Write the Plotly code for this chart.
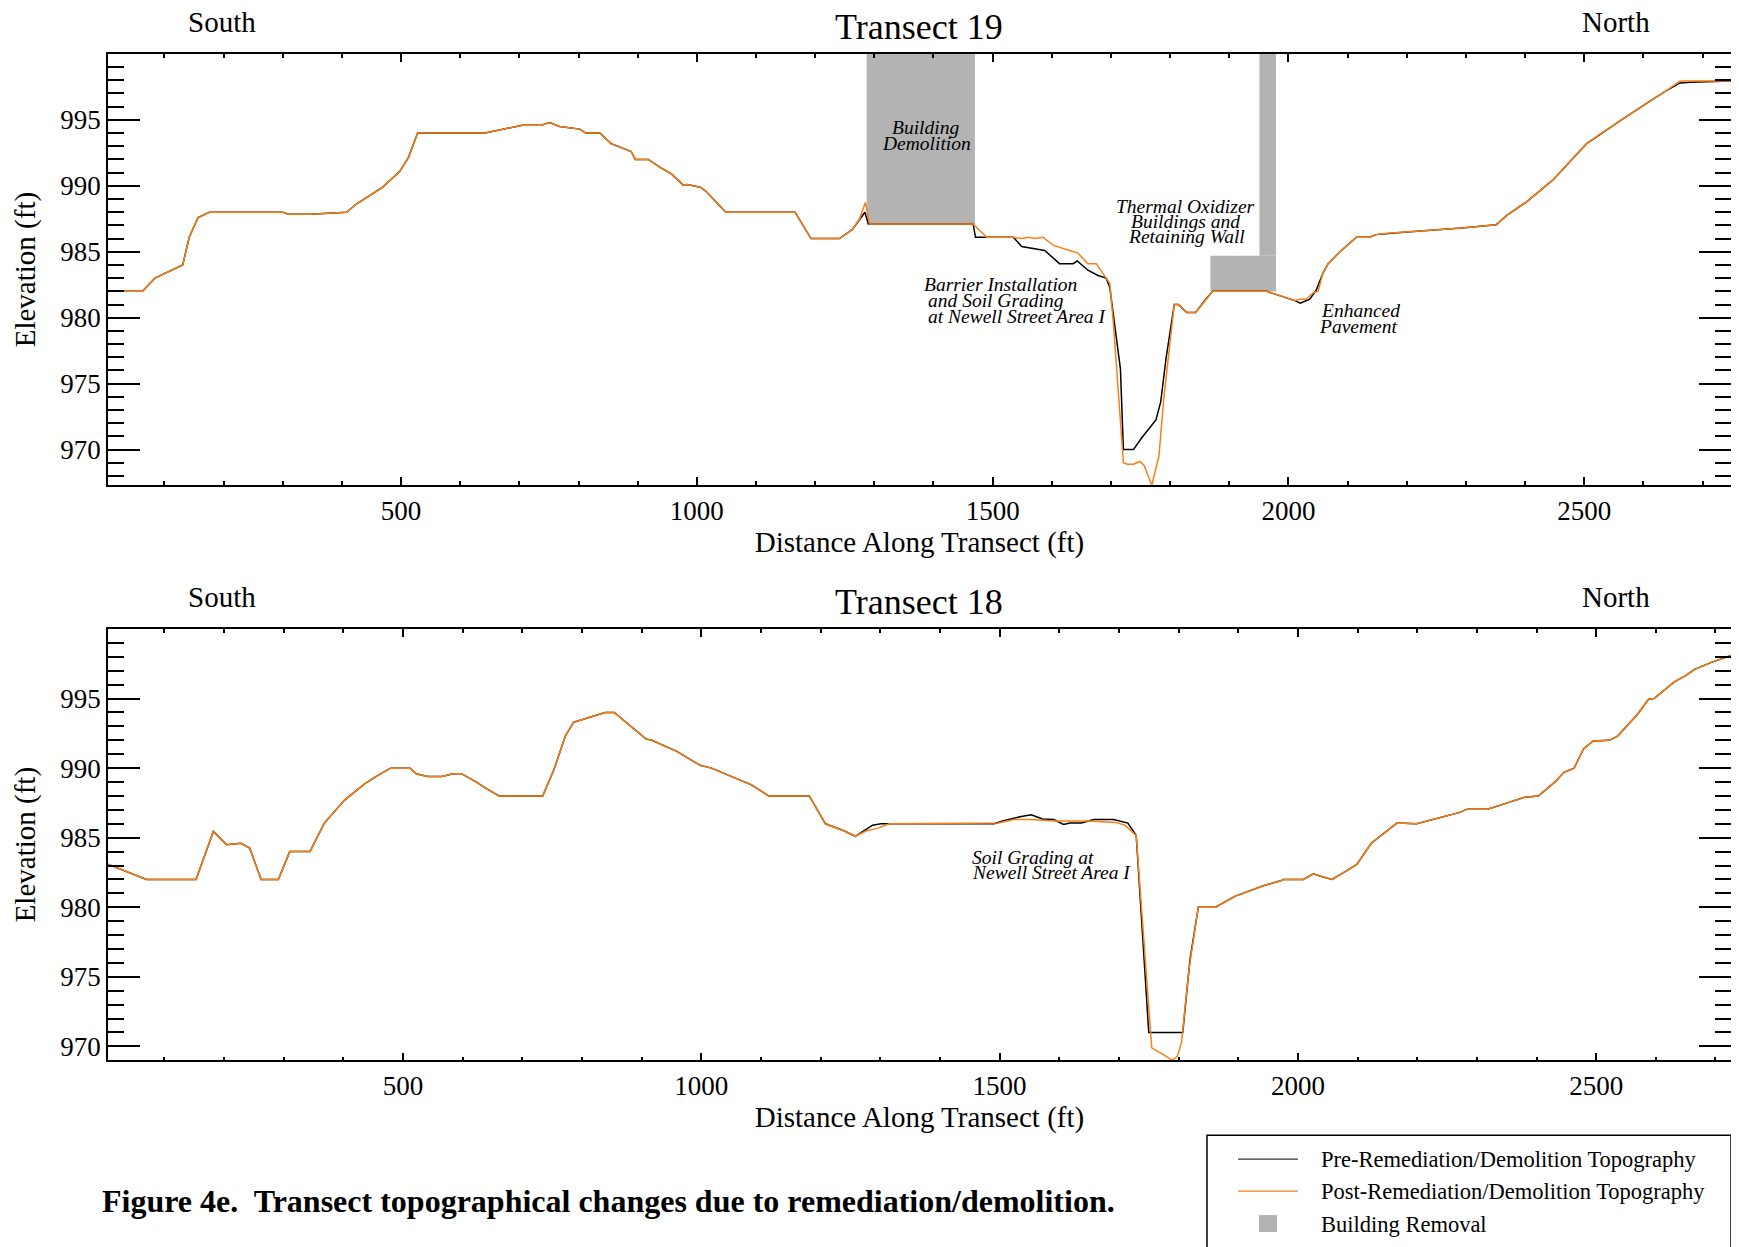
import plotly.graph_objects as go

# the page adds an 8 px body margin, so the figure is drawn 8 px smaller
# and every pixel position below is given in window coordinates
PAGE_W, PAGE_H = 1739, 1247
OFF = 8
W, H = PAGE_W - OFF, PAGE_H - OFF

# ---- Transect 19 profiles (distance ft, elevation ft) ----
t19_pre_x = [5, 63, 84, 131, 142, 157, 176, 300, 310, 346, 408, 424, 469, 498, 513, 528, 642, 705, 737, 751,
             768, 802, 812, 836, 855, 880, 889, 896, 918, 938, 957, 977, 983, 1006, 1015, 1049, 1166, 1193,
             1241, 1263, 1284, 1290, 1467, 1471, 1535, 1549, 1588, 1613, 1636, 1643, 1661, 1678, 1692, 1698,
             1716, 1721, 1738, 1752, 1776, 1784, 1793, 1807, 1814, 1828, 1843, 1862, 1872, 1963, 2011, 2020,
             2036, 2047, 2058, 2067, 2087, 2115, 2137, 2148, 2166, 2185, 2217, 2293, 2351, 2370, 2403, 2447,
             2504, 2523, 2561, 2600, 2638, 2662, 2680, 2748]
t19_pre_y = [982, 982, 983, 984, 986.1, 987.6, 988, 988, 987.85, 987.85, 988, 988.6, 989.9, 991.1, 992.2, 994,
             994, 994.6, 994.6, 994.8, 994.5, 994.3, 994, 994, 993.2, 992.8, 992.6, 992, 992, 991.4, 990.9,
             990.05, 990.1, 989.9, 989.6, 988, 988, 986, 986, 986.7, 988.0, 987.1, 987.1, 986.1, 986.1, 985.4,
             985.1, 984.1, 984.1, 984.3, 983.6, 983.2, 983.0, 982.3, 976.1, 970.0, 970.0, 970.9, 972.25, 973.6,
             976.9, 981.0, 981.0, 980.4, 980.4, 981.5, 982, 982, 981.3, 981.1, 981.4, 982.1, 983.35, 984.1,
             985.0, 986.1, 986.1, 986.3, 986.4, 986.45, 986.55, 986.8, 987.05, 987.8, 988.8, 990.45, 993.2,
             993.8, 994.95, 996.1, 997.2, 997.8, 997.85, 997.95]
t19_post_x = [5, 63, 84, 131, 142, 157, 176, 300, 310, 346, 408, 424, 469, 498, 513, 528, 642, 705, 737, 751,
              768, 802, 812, 836, 855, 880, 889, 896, 918, 938, 957, 977, 983, 1006, 1015, 1049, 1166, 1193,
              1241, 1263, 1275, 1285, 1292, 1467, 1490, 1535, 1550, 1560, 1572, 1585, 1602, 1630, 1644, 1661,
              1675, 1692, 1698, 1704, 1721, 1728, 1738, 1749, 1756, 1769, 1781, 1790, 1807, 1814, 1828, 1843,
              1862, 1872, 1963, 2011, 2019, 2030, 2042, 2050, 2058, 2067, 2087, 2115, 2137, 2148, 2166, 2185,
              2217, 2293, 2351, 2370, 2403, 2447, 2504, 2523, 2561, 2600, 2638, 2662, 2748]
t19_post_y = [982, 982, 983, 984, 986.1, 987.6, 988, 988, 987.85, 987.85, 988, 988.6, 989.9, 991.1, 992.2, 994,
              994, 994.6, 994.6, 994.8, 994.5, 994.3, 994, 994, 993.2, 992.8, 992.6, 992, 992, 991.4, 990.9,
              990.05, 990.1, 989.9, 989.6, 988, 988, 986, 986, 986.7, 987.5, 988.75, 987.1, 987.1, 986.1,
              986.1, 986.0, 986.1, 986.0, 986.1, 985.5, 985.1, 984.9, 984.1, 984.1, 983.0, 982.6, 979.6, 969.0,
              968.9, 968.9, 969.1, 968.8, 967.3, 969.5, 974.2, 981.0, 981.0, 980.4, 980.4, 981.5, 982, 982,
              981.3, 981.4, 981.4, 981.9, 982.0, 983.35, 984.1, 985.0, 986.1, 986.1, 986.3, 986.4, 986.45,
              986.55, 986.8, 987.05, 987.8, 988.8, 990.45, 993.2, 993.8, 994.95, 996.1, 997.2, 997.95, 997.95]

# ---- Transect 18 profiles ----
t18_pre_x = [5, 36, 70, 153, 182, 204, 228, 243, 262, 291, 310, 344, 368, 402, 435, 455, 479, 512, 522, 541,
             565, 584, 598, 623, 637, 661, 734, 753, 772, 786, 815, 839, 854, 907, 917, 959, 998, 1017, 1084,
             1113, 1181, 1208, 1239, 1258, 1287, 1301, 1491, 1505, 1534, 1553, 1572, 1591, 1607, 1618, 1637,
             1658, 1691, 1715, 1729, 1750, 1807, 1819, 1833, 1862, 1895, 1914, 1942, 1971, 1976, 2009, 2026,
             2037, 2057, 2085, 2099, 2123, 2147, 2166, 2199, 2237, 2270, 2284, 2318, 2351, 2380, 2403, 2432,
             2446, 2463, 2479, 2495, 2522, 2536, 2569, 2588, 2597, 2631, 2650, 2665, 2693, 2726]
t18_pre_y = [983.1, 982.6, 982, 982, 985.45, 984.5, 984.6, 984.25, 982, 982, 984, 984, 986.05, 987.7, 988.85,
             989.4, 990, 990, 989.6, 989.4, 989.4, 989.6, 989.6, 989, 988.6, 988, 988, 989.9, 992.3, 993.3,
             993.7, 994, 994, 992.1, 992, 991.2, 990.2, 990, 988.8, 988, 988, 986, 985.5, 985.1, 985.9, 986.0,
             986.0, 986.2, 986.5, 986.65, 986.35, 986.3, 985.95, 986.05, 986.05, 986.3, 986.3, 986.05, 985.15,
             971.0, 971.0, 976.2, 980.0, 980.0, 980.8, 981.1, 981.55, 981.9, 982.0, 982.0, 982.4, 982.25, 982.0,
             982.7, 983.1, 984.6, 985.4, 986.05, 986.0, 986.4, 986.8, 987.05, 987.05, 987.5, 987.9, 988.0,
             989.05, 989.7, 990.0, 991.4, 991.95, 992.0, 992.3, 993.85, 994.95, 995.0, 996.2, 996.65, 997.1,
             997.6, 998.1]
t18_post_x = [5, 36, 70, 153, 182, 204, 228, 243, 262, 291, 310, 344, 368, 402, 435, 455, 479, 512, 522, 541,
              565, 584, 598, 623, 637, 661, 734, 753, 772, 786, 815, 839, 854, 907, 917, 959, 998, 1017, 1084,
              1113, 1181, 1208, 1239, 1258, 1277, 1294, 1315, 1498, 1524, 1553, 1591, 1648, 1695, 1710, 1729,
              1741, 1755, 1771, 1790, 1798, 1805, 1817, 1833, 1862, 1895, 1914, 1942, 1971, 1976, 2009, 2026,
              2037, 2057, 2085, 2099, 2123, 2147, 2166, 2199, 2237, 2270, 2284, 2318, 2351, 2380, 2403, 2432,
              2446, 2463, 2479, 2495, 2522, 2536, 2569, 2588, 2597, 2631, 2650, 2665, 2693, 2726]
t18_post_y = [983.1, 982.6, 982, 982, 985.45, 984.5, 984.6, 984.25, 982, 982, 984, 984, 986.05, 987.7, 988.85,
              989.4, 990, 990, 989.6, 989.4, 989.4, 989.6, 989.6, 989, 988.6, 988, 988, 989.9, 992.3, 993.3,
              993.7, 994, 994, 992.1, 992, 991.2, 990.2, 990, 988.8, 988, 988, 986, 985.5, 985.1, 985.5, 985.65,
              986.0, 986.05, 986.3, 986.3, 986.2, 986.2, 986.1, 985.9, 985.15, 978.0, 969.9, 969.5, 969.0, 969.3,
              970.3, 975.4, 980.0, 980.0, 980.8, 981.1, 981.55, 981.9, 982.0, 982.0, 982.4, 982.25, 982.0,
              982.7, 983.1, 984.6, 985.4, 986.05, 986.0, 986.4, 986.8, 987.05, 987.05, 987.5, 987.9, 988.0,
              989.05, 989.7, 990.0, 991.4, 991.95, 992.0, 992.3, 993.85, 994.95, 995.0, 996.2, 996.65, 997.1,
              997.6, 998.1]

# building removal areas on transect 19
removal_x0 = [1287, 1868, 1951]
removal_x1 = [1470, 1979, 1979]
removal_y0 = [987.1, 982.0, 984.7]
removal_y1 = [1000, 984.7, 1000]

x_ticks = [500, 1000, 1500, 2000, 2500]
y_ticks = [970, 975, 980, 985, 990, 995]

# labels on the plots: (text, x, y, anchor)
t19_notes = [
    ("Building", 1387, 994.45, "center"),
    ("Demolition", 1389, 993.24, "center"),
    ("Thermal Oxidizer", 1826, 988.45, "center"),
    ("Buildings and", 1826, 987.26, "center"),
    ("Retaining Wall", 1828, 986.13, "center"),
    ("Barrier Installation", 1380, 982.55, "left"),
    ("and Soil Grading", 1388, 981.28, "left"),
    ("at Newell Street Area I", 1388, 980.07, "left"),
    ("Enhanced", 2051, 980.53, "left"),
    ("Pavement", 2049, 979.31, "left"),
]
t18_notes = [
    ("Soil Grading at", 1451, 983.55, "left"),
    ("Newell Street Area I", 1450, 982.48, "left"),
]

BLACK = "#000000"
ORANGE = "#f98016"
GRAY = "#b3b3b3"
SERIF = "Liberation Serif"

fig = go.Figure()

fig.add_trace(go.Scatter(x=t19_pre_x, y=t19_pre_y, mode="lines", line=dict(color=BLACK, width=1.5),
                         xaxis="x", yaxis="y", name="Pre-Remediation/Demolition Topography"))
fig.add_trace(go.Scatter(x=t19_post_x, y=t19_post_y, mode="lines", line=dict(color=ORANGE, width=1.5),
                         xaxis="x", yaxis="y", name="Post-Remediation/Demolition Topography"))
fig.add_trace(go.Scatter(x=t18_pre_x, y=t18_pre_y, mode="lines", line=dict(color=BLACK, width=1.5),
                         xaxis="x2", yaxis="y2", name="Pre-Remediation/Demolition Topography"))
fig.add_trace(go.Scatter(x=t18_post_x, y=t18_post_y, mode="lines", line=dict(color=ORANGE, width=1.5),
                         xaxis="x2", yaxis="y2", name="Post-Remediation/Demolition Topography"))

for x0, x1, y0, y1 in zip(removal_x0, removal_x1, removal_y0, removal_y1):
    fig.add_shape(type="rect", xref="x", yref="y", x0=x0, x1=x1, y0=y0, y1=y1,
                  fillcolor=GRAY, line=dict(width=0), layer="below")


def px(v):
    return (v - OFF) / W


def py(v):
    return (PAGE_H - v) / H


def xaxis_style(anchor, rng):
    return dict(
        domain=[px(108), px(1731)], anchor=anchor, range=rng,
        tickmode="array", tickvals=x_ticks, ticks="inside", ticklen=8, tickwidth=1.5, tickcolor=BLACK,
        minor=dict(tickmode="linear", tick0=0, dtick=100, ticks="inside", ticklen=4, tickwidth=1.5,
                   tickcolor=BLACK),
        showline=True, linecolor=BLACK, linewidth=1.5, mirror="ticks",
        showgrid=False, zeroline=False, ticklabelstandoff=1,
        tickfont=dict(family=SERIF, size=27, color=BLACK),
        title=dict(text="Distance Along Transect (ft)", font=dict(family=SERIF, size=29, color=BLACK),
                   standoff=4),
    )


def yaxis_style(anchor, dom, rng):
    return dict(
        domain=dom, anchor=anchor, range=rng,
        tickmode="array", tickvals=y_ticks, ticks="inside", ticklen=32, tickwidth=1.5, tickcolor=BLACK,
        minor=dict(tickmode="linear", tick0=970, dtick=1, ticks="inside", ticklen=16, tickwidth=1.5,
                   tickcolor=BLACK),
        showline=True, linecolor=BLACK, linewidth=1.5, mirror="ticks",
        showgrid=False, zeroline=False, ticklabelstandoff=0,
        tickfont=dict(family=SERIF, size=27, color=BLACK),
        title=dict(text="Elevation (ft)", font=dict(family=SERIF, size=29, color=BLACK), standoff=16),
    )


fig.update_layout(
    width=W, height=H,
    margin=dict(l=0, r=0, t=0, b=0),
    paper_bgcolor="white", plot_bgcolor="white",
    showlegend=False,
    xaxis=xaxis_style("y", [4.7, 2748]),
    yaxis=yaxis_style("x", [py(486), py(54)], [967.3, 1000]),
    xaxis2=xaxis_style("y2", [5.4, 2726]),
    yaxis2=yaxis_style("x2", [py(1062), py(630)], [969, 1000]),
)

ann = []
for text, x, y, anc in t19_notes:
    ann.append(dict(text="<i>" + text + "</i>", x=x, y=y, xref="x", yref="y", xanchor=anc, yanchor="middle",
                    showarrow=False, font=dict(family=SERIF, size=19.5, color=BLACK)))
for text, x, y, anc in t18_notes:
    ann.append(dict(text="<i>" + text + "</i>", x=x, y=y, xref="x2", yref="y2", xanchor=anc, yanchor="middle",
                    showarrow=False, font=dict(family=SERIF, size=19.5, color=BLACK)))

# panel headings
for top, label in [(27, "Transect 19"), (603, "Transect 18")]:
    ann.append(dict(text=label, x=px(919), y=py(top), xref="paper", yref="paper", xanchor="center",
                    yanchor="middle", showarrow=False, font=dict(family=SERIF, size=36, color=BLACK)))
    ann.append(dict(text="South", x=px(222), y=py(top - 5), xref="paper", yref="paper", xanchor="center",
                    yanchor="middle", showarrow=False, font=dict(family=SERIF, size=29, color=BLACK)))
    ann.append(dict(text="North", x=px(1616), y=py(top - 5), xref="paper", yref="paper", xanchor="center",
                    yanchor="middle", showarrow=False, font=dict(family=SERIF, size=29, color=BLACK)))

# caption
ann.append(dict(text="<b>Figure 4e.  Transect topographical changes due to remediation/demolition.</b>",
                x=px(100), y=py(1203), xref="paper", yref="paper", xanchor="left", yanchor="middle",
                showarrow=False, font=dict(family=SERIF, size=32, color=BLACK)))

# legend box drawn by hand
legend_rows = ["Pre-Remediation/Demolition Topography", "Post-Remediation/Demolition Topography",
               "Building Removal"]
legend_y = [1161, 1193, 1226]
fig.add_shape(type="rect", xref="paper", yref="paper", x0=px(1207), x1=px(1731), y0=py(1262), y1=py(1137),
              line=dict(color=BLACK, width=1.5), fillcolor="rgba(0,0,0,0)")
fig.add_shape(type="line", xref="paper", yref="paper", x0=px(1238), x1=px(1298), y0=py(1161), y1=py(1161),
              line=dict(color="#333333", width=1.2))
fig.add_shape(type="line", xref="paper", yref="paper", x0=px(1238), x1=px(1298), y0=py(1193), y1=py(1193),
              line=dict(color=ORANGE, width=1.2))
fig.add_shape(type="rect", xref="paper", yref="paper", x0=px(1259), x1=px(1277), y0=py(1234), y1=py(1217),
              fillcolor=GRAY, line=dict(width=0))
for text, y in zip(legend_rows, legend_y):
    ann.append(dict(text=text, x=px(1319), y=py(y), xref="paper", yref="paper", xanchor="left",
                    yanchor="middle", showarrow=False, font=dict(family=SERIF, size=22.5, color=BLACK)))

fig.update_layout(annotations=ann)

fig.write_html("out.html")
